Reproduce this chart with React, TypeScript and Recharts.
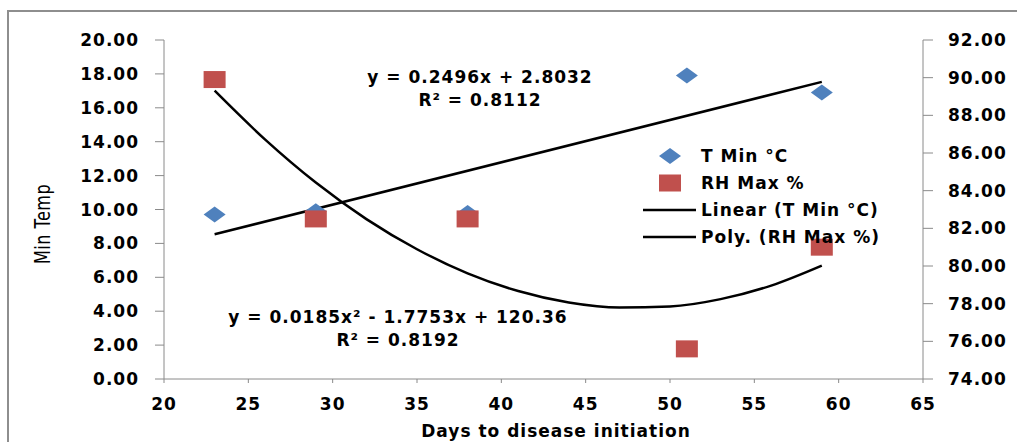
import React from 'react';
import { ScatterChart, Scatter, XAxis, YAxis } from 'recharts';

// observations
const days = [23, 29, 38, 51, 59];
const tMin = [9.7, 9.9, 9.8, 17.9, 16.9];
const rhMax = [89.9, 82.5, 82.5, 75.6, 81.0];

// trendlines
const linearDays = [23, 59];
const linearTMin = [8.54, 17.53];
const polyDays = [23, 26, 29, 32, 35, 38, 41, 44, 47, 50, 53, 56, 59];
const polyRh = [89.31, 86.71, 84.43, 82.49, 80.89, 79.61, 78.67, 78.06, 77.79, 77.85, 78.24, 78.96, 80.02];

const xTicks = [20, 25, 30, 35, 40, 45, 50, 55, 60, 65];
const leftTicks = [0, 2, 4, 6, 8, 10, 12, 14, 16, 18, 20];
const rightTicks = [74, 76, 78, 80, 82, 84, 86, 88, 90, 92];

const BLUE = '#4F81BD';
const RED = '#C0504D';
const AXIS = '#8a8a8a';

const pairs = (xs: number[], ys: number[]) => xs.map((x, i) => ({ x, y: ys[i] }));

const Diamond = (p: any) => {
  const { cx, cy } = p;
  if (cx == null || cy == null) return null;
  return <path d={`M${cx - 11},${cy} L${cx},${cy - 8} L${cx + 11},${cy} L${cx},${cy + 8} Z`} fill={BLUE} />;
};

const Square = (p: any) => {
  const { cx, cy } = p;
  if (cx == null || cy == null) return null;
  return <rect x={cx - 11} y={cy - 8.5} width={22} height={17} fill={RED} />;
};

const NoDot = () => null;

const tickStyle = { fill: '#000', fontSize: 17, fontWeight: 'bold' as const };

export default function App() {
  return (
    <div
      style={{
        position: 'fixed',
        left: 0,
        top: 0,
        width: 1017,
        height: 442,
        overflow: 'hidden',
        background: '#fff',
        fontFamily: '"DejaVu Sans", sans-serif',
        letterSpacing: '1px',
      }}
    >
      <div
        style={{
          position: 'absolute',
          left: 7,
          top: 10,
          width: 1100,
          height: 500,
          border: '2px solid #8e8e8e',
        }}
      />
      <div style={{ position: 'absolute', left: 0, top: 0 }}>
        <ScatterChart width={1017} height={442} margin={{ top: 40, right: 0, bottom: 0, left: 0 }}>
          <XAxis
            type="number"
            dataKey="x"
            domain={[20, 65]}
            ticks={xTicks}
            allowDataOverflow
            height={63}
            stroke={AXIS}
            tickSize={4}
            tickMargin={15}
            tick={tickStyle}
          />
          <YAxis
            yAxisId="left"
            type="number"
            dataKey="y"
            domain={[0, 20]}
            ticks={leftTicks}
            allowDataOverflow
            width={164}
            stroke={AXIS}
            tickSize={9}
            tickMargin={16}
            tick={tickStyle}
            tickFormatter={(v: number) => v.toFixed(2)}
          />
          <YAxis
            yAxisId="right"
            orientation="right"
            type="number"
            dataKey="y"
            domain={[74, 92]}
            ticks={rightTicks}
            allowDataOverflow
            width={94}
            stroke={AXIS}
            tickSize={10}
            tickMargin={15}
            tick={tickStyle}
            tickFormatter={(v: number) => v.toFixed(2)}
          />
          <Scatter
            yAxisId="right"
            data={pairs(polyDays, polyRh)}
            line={{ stroke: '#000', strokeWidth: 2.5 }}
            lineJointType="monotoneX"
            shape={NoDot}
            isAnimationActive={false}
          />
          <Scatter
            yAxisId="left"
            data={pairs(linearDays, linearTMin)}
            line={{ stroke: '#000', strokeWidth: 2.5 }}
            shape={NoDot}
            isAnimationActive={false}
          />
          <Scatter yAxisId="left" data={pairs(days, tMin)} shape={Diamond} isAnimationActive={false} />
          <Scatter yAxisId="right" data={pairs(days, rhMax)} shape={Square} isAnimationActive={false} />
        </ScatterChart>
      </div>
      <svg
        width={1017}
        height={442}
        style={{ position: 'absolute', left: 0, top: 0, pointerEvents: 'none' }}
        fontSize={17}
        fontWeight="bold"
      >
        <text
          x={0}
          y={0}
          transform="translate(43 224) scale(1.3 1) rotate(-90)"
          textAnchor="middle"
          dominantBaseline="central"
          fontWeight="normal"
          fontSize={16}
          letterSpacing={0.5}
        >
          Min Temp
        </text>
        <text x={556} y={437} textAnchor="middle">Days to disease initiation</text>

        <text x={480} y={83} textAnchor="middle">y = 0.2496x + 2.8032</text>
        <text x={480} y={106} textAnchor="middle">R² = 0.8112</text>
        <text x={398} y={323} textAnchor="middle">y = 0.0185x² - 1.7753x + 120.36</text>
        <text x={398} y={346} textAnchor="middle">R² = 0.8192</text>

        <path d="M659,156 L670,148 L681,156 L670,164 Z" fill={BLUE} />
        <text x={701} y={162}>T Min °C</text>
        <rect x={659} y={174.5} width={22} height={17} fill={RED} />
        <text x={701} y={189}>RH Max %</text>
        <line x1={643} x2={696} y1={210} y2={210} stroke="#000" strokeWidth={2.5} />
        <text x={701} y={216}>Linear (T Min °C)</text>
        <line x1={643} x2={696} y1={237} y2={237} stroke="#000" strokeWidth={2.5} />
        <text x={701} y={243}>Poly. (RH Max %)</text>
      </svg>
    </div>
  );
}
